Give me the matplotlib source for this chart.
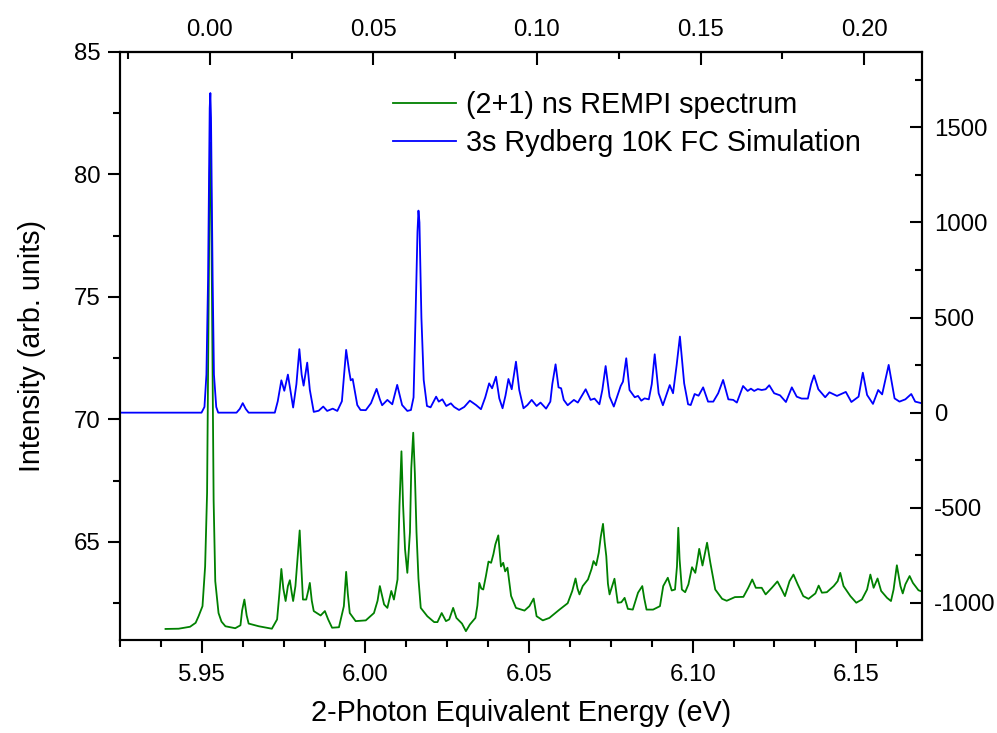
import matplotlib
matplotlib.use("Agg")
import matplotlib.pyplot as plt
from matplotlib.ticker import MultipleLocator, FixedLocator, FormatStrFormatter

plt.rcParams["font.family"] = ["Liberation Sans", "DejaVu Sans"]
plt.rcParams["axes.unicode_minus"] = False

# Measured (2+1) ns REMPI spectrum: photon energy (eV) and intensity (arb. units)
rempi_energy = [
    5.9389, 5.9429, 5.9464, 5.9481, 5.9490, 5.9502, 5.9510, 5.9516, 5.9521, 5.9524,
    5.9526, 5.9528, 5.9531, 5.9536, 5.9541, 5.9547, 5.9551, 5.9560, 5.9572, 5.9602,
    5.9618, 5.9623, 5.9630, 5.9637, 5.9643, 5.9674, 5.9714, 5.9730, 5.9737, 5.9743,
    5.9749, 5.9756, 5.9763, 5.9769, 5.9775, 5.9779, 5.9786, 5.9794, 5.9799, 5.9804,
    5.9809, 5.9819, 5.9825, 5.9830, 5.9836, 5.9842, 5.9863, 5.9876, 5.9886, 5.9898,
    5.9919, 5.9934, 5.9941, 5.9946, 5.9952, 5.9970, 6.0001, 6.0026, 6.0037, 6.0044,
    6.0057, 6.0067, 6.0079, 6.0087, 6.0098, 6.0104, 6.0110, 6.0115, 6.0121, 6.0128,
    6.0136, 6.0140, 6.0146, 6.0151, 6.0156, 6.0162, 6.0169, 6.0189, 6.0210, 6.0220,
    6.0233, 6.0246, 6.0256, 6.0268, 6.0278, 6.0295, 6.0307, 6.0319, 6.0336, 6.0342,
    6.0348, 6.0354, 6.0360, 6.0368, 6.0376, 6.0384, 6.0391, 6.0397, 6.0406, 6.0414,
    6.0421, 6.0427, 6.0434, 6.0445, 6.0460, 6.0486, 6.0501, 6.0514, 6.0523, 6.0542,
    6.0562, 6.0593, 6.0618, 6.0632, 6.0642, 6.0648, 6.0654, 6.0664, 6.0680, 6.0691,
    6.0697, 6.0705, 6.0713, 6.0719, 6.0726, 6.0731, 6.0736, 6.0741, 6.0746, 6.0754,
    6.0761, 6.0767, 6.0771, 6.0782, 6.0792, 6.0802, 6.0817, 6.0833, 6.0846, 6.0852,
    6.0859, 6.0879, 6.0900, 6.0910, 6.0924, 6.0936, 6.0946, 6.0952, 6.0956, 6.0960,
    6.0967, 6.0977, 6.0987, 6.0998, 6.1008, 6.1014, 6.1020, 6.1030, 6.1037, 6.1044,
    6.1054, 6.1069, 6.1090, 6.1104, 6.1129, 6.1155, 6.1170, 6.1182, 6.1193, 6.1211,
    6.1223, 6.1242, 6.1259, 6.1272, 6.1282, 6.1296, 6.1308, 6.1321, 6.1338, 6.1354,
    6.1375, 6.1385, 6.1395, 6.1410, 6.1431, 6.1443, 6.1451, 6.1461, 6.1482, 6.1500,
    6.1517, 6.1533, 6.1543, 6.1553, 6.1565, 6.1576, 6.1594, 6.1606, 6.1614, 6.1624,
    6.1635, 6.1642, 6.1650, 6.1663, 6.1673, 6.1690, 6.1698,
]
rempi_intensity = [
    61.45, 61.46, 61.54, 61.70, 61.97, 62.38, 64.00, 67.00, 75.00, 80.00,
    81.30, 80.00, 75.00, 66.70, 63.40, 62.60, 62.10, 61.75, 61.56, 61.48,
    61.60, 62.20, 62.65, 62.00, 61.67, 61.56, 61.46, 61.84, 62.90, 63.90,
    63.10, 62.59, 63.20, 63.44, 62.90, 62.59, 63.20, 64.60, 65.47, 64.00,
    62.65, 62.65, 63.00, 63.33, 62.60, 62.18, 62.00, 62.18, 61.84, 61.50,
    61.52, 62.38, 63.78, 62.90, 62.10, 61.77, 61.80, 62.10, 62.60, 63.20,
    62.45, 62.31, 63.00, 62.65, 63.47, 66.50, 68.70, 66.50, 64.70, 63.74,
    65.40, 68.00, 69.46, 67.80, 65.40, 63.50, 62.31, 61.97, 61.73, 61.73,
    62.10, 61.77, 61.84, 62.31, 61.90, 61.67, 61.36, 61.63, 61.90, 62.40,
    63.33, 63.10, 63.06, 63.60, 64.20, 64.15, 64.50, 64.90, 65.27, 64.00,
    64.15, 63.80, 63.95, 62.80, 62.31, 62.20, 62.38, 62.69, 61.97, 61.80,
    61.90, 62.24, 62.50, 63.00, 63.51, 63.10, 62.86, 63.20, 63.47, 63.90,
    64.22, 64.05, 64.56, 65.20, 65.74, 65.00, 64.42, 63.30, 62.86, 63.20,
    63.50, 62.90, 62.52, 62.54, 62.72, 62.27, 62.24, 62.93, 63.20, 62.70,
    62.24, 62.24, 62.38, 63.20, 63.54, 63.02, 63.06, 64.00, 65.58, 64.30,
    63.06, 62.95, 63.27, 63.97, 63.74, 64.20, 64.72, 64.04, 64.50, 64.97,
    64.15, 63.06, 62.68, 62.60, 62.75, 62.76, 63.13, 63.47, 63.13, 63.13,
    62.86, 63.13, 63.39, 63.06, 62.79, 63.40, 63.67, 63.27, 62.79, 62.68,
    62.90, 63.22, 62.93, 62.95, 63.20, 63.40, 63.74, 63.20, 62.79, 62.52,
    62.65, 63.06, 63.67, 63.13, 63.51, 63.00, 62.72, 62.59, 63.06, 64.05,
    63.20, 62.90, 63.27, 63.61, 63.33, 63.03, 62.99,
]

# 3s Rydberg Franck-Condon simulation at 10 K: energy (eV) and intensity
fc_energy = [
    5.9250, 5.9499, 5.9508, 5.9514, 5.9519, 5.9524, 5.9526, 5.9528, 5.9533, 5.9537,
    5.9544, 5.9550, 5.9606, 5.9616, 5.9625, 5.9634, 5.9643, 5.9723, 5.9732, 5.9743,
    5.9752, 5.9763, 5.9779, 5.9789, 5.9798, 5.9805, 5.9811, 5.9822, 5.9830, 5.9842,
    5.9857, 5.9871, 5.9883, 5.9900, 5.9914, 5.9928, 5.9941, 5.9950, 5.9955, 5.9961,
    5.9968, 5.9975, 5.9985, 6.0001, 6.0017, 6.0034, 6.0044, 6.0051, 6.0067, 6.0082,
    6.0097, 6.0112, 6.0128, 6.0139, 6.0147, 6.0153, 6.0159, 6.0162, 6.0165, 6.0171,
    6.0178, 6.0188, 6.0199, 6.0216, 6.0224, 6.0235, 6.0247, 6.0261, 6.0271, 6.0286,
    6.0302, 6.0319, 6.0338, 6.0353, 6.0366, 6.0378, 6.0387, 6.0399, 6.0409, 6.0419,
    6.0428, 6.0437, 6.0447, 6.0460, 6.0470, 6.0483, 6.0495, 6.0508, 6.0523, 6.0535,
    6.0552, 6.0565, 6.0571, 6.0581, 6.0590, 6.0598, 6.0606, 6.0618, 6.0637, 6.0649,
    6.0673, 6.0688, 6.0700, 6.0715, 6.0724, 6.0734, 6.0746, 6.0759, 6.0780, 6.0787,
    6.0797, 6.0807, 6.0823, 6.0833, 6.0843, 6.0853, 6.0866, 6.0875, 6.0884, 6.0896,
    6.0909, 6.0930, 6.0940, 6.0951, 6.0961, 6.0974, 6.0986, 6.0994, 6.1006, 6.1018,
    6.1032, 6.1047, 6.1063, 6.1078, 6.1093, 6.1109, 6.1124, 6.1135, 6.1154, 6.1168,
    6.1178, 6.1188, 6.1199, 6.1211, 6.1223, 6.1234, 6.1249, 6.1267, 6.1285, 6.1303,
    6.1318, 6.1333, 6.1352, 6.1362, 6.1371, 6.1384, 6.1405, 6.1418, 6.1441, 6.1468,
    6.1485, 6.1507, 6.1520, 6.1533, 6.1551, 6.1567, 6.1579, 6.1599, 6.1617, 6.1632,
    6.1650, 6.1668, 6.1680, 6.1701,
]
fc_intensity = [
    0, 0, 30, 200, 700, 1600, 1680, 1550, 700, 200,
    30, 0, 0, 20, 50, 20, 0, 0, 60, 170,
    115, 200, 27, 150, 334, 200, 142, 263, 120, 4,
    10, 32, 9, 21, 9, 60, 330, 220, 170, 177,
    110, 40, 14, 13, 50, 125, 70, 39, 67, 44,
    146, 40, 9, 14, 80, 500, 950, 1062, 1000, 500,
    172, 35, 28, 84, 58, 70, 35, 49, 30, 14,
    30, 63, 40, 18, 80, 154, 128, 189, 75, 23,
    90, 177, 123, 268, 119, 23, 40, 67, 35, 53,
    21, 58, 150, 254, 133, 128, 67, 39, 67, 53,
    123, 67, 74, 44, 120, 245, 84, 32, 140, 163,
    286, 119, 81, 88, 63, 75, 70, 150, 307, 102,
    39, 145, 102, 250, 400, 154, 44, 40, 98, 89,
    133, 58, 58, 102, 172, 70, 67, 53, 140, 114,
    126, 114, 124, 119, 123, 144, 102, 91, 56, 133,
    84, 74, 74, 150, 196, 123, 81, 107, 88, 109,
    56, 84, 210, 93, 46, 119, 96, 251, 75, 58,
    70, 98, 58, 49,
]

# Top scale: energy relative to the origin band
origin_energy = 5.9524
top_ticks = [0.00, 0.05, 0.10, 0.15, 0.20]
top_minor_ticks = [-0.025, 0.025, 0.075, 0.125, 0.175]

fig = plt.figure(figsize=(9.97, 7.33), dpi=100)
ax = fig.add_axes([0.1204, 0.1269, 0.8041, 0.8022])

line_exp, = ax.plot(rempi_energy, rempi_intensity, color="#008000", lw=1.3,
                    label="(2+1) ns REMPI spectrum")
ax.set_xlim(5.925, 6.17)
ax.set_ylim(61, 85)

ax2 = ax.twinx()
line_sim, = ax2.plot(fc_energy, fc_intensity, color="#0000FF", lw=1.3,
                     label="3s Rydberg 10K FC Simulation")
ax2.set_ylim(-1195, 1896)

secax = ax.secondary_xaxis("top", functions=(lambda e: e - origin_energy,
                                             lambda d: d + origin_energy))

tick_fs = 17.3
label_fs = 20.7

ax.xaxis.set_major_locator(MultipleLocator(0.05))
ax.xaxis.set_minor_locator(MultipleLocator(0.0125))
ax.xaxis.set_major_formatter(FormatStrFormatter("%.2f"))
ax.yaxis.set_major_locator(MultipleLocator(5))
ax.yaxis.set_minor_locator(MultipleLocator(2.5))
ax.tick_params(axis="both", which="both", direction="out", top=False, right=False,
               width=1.5, labelsize=tick_fs)
ax.tick_params(axis="x", which="both", pad=8)
ax.tick_params(axis="y", which="both", pad=5)
ax.tick_params(axis="both", which="major", length=9)
ax.tick_params(axis="both", which="minor", length=5)

ax2.yaxis.set_major_locator(MultipleLocator(500))
ax2.yaxis.set_minor_locator(MultipleLocator(250))
ax2.tick_params(axis="y", which="both", direction="in", width=1.5,
                labelsize=tick_fs, pad=9)
ax2.tick_params(axis="y", which="major", length=9)
ax2.tick_params(axis="y", which="minor", length=5)

secax.xaxis.set_major_locator(FixedLocator(top_ticks))
secax.xaxis.set_minor_locator(FixedLocator(top_minor_ticks))
secax.xaxis.set_major_formatter(FormatStrFormatter("%.2f"))
secax.tick_params(axis="x", which="both", direction="in", width=1.5,
                  labelsize=tick_fs, pad=8)
secax.tick_params(axis="x", which="major", length=9)
secax.tick_params(axis="x", which="minor", length=5)

for a in (ax, ax2):
    for s in a.spines.values():
        s.set_linewidth(1.5)
secax.spines["top"].set_linewidth(1.5)

ax.set_xlabel("2-Photon Equivalent Energy (eV)", fontsize=label_fs, labelpad=10)
ax.set_ylabel("Intensity (arb. units)", fontsize=label_fs, labelpad=20)

ax2.legend(handles=[line_exp, line_sim], loc="upper left",
           bbox_to_anchor=(393 / 997, 1 - 91 / 733), bbox_transform=fig.transFigure,
           frameon=False, fontsize=label_fs, borderpad=0, borderaxespad=0,
           handlelength=2.2, handletextpad=0.33, labelspacing=0.36)

fig.savefig("out.png", dpi=100)
